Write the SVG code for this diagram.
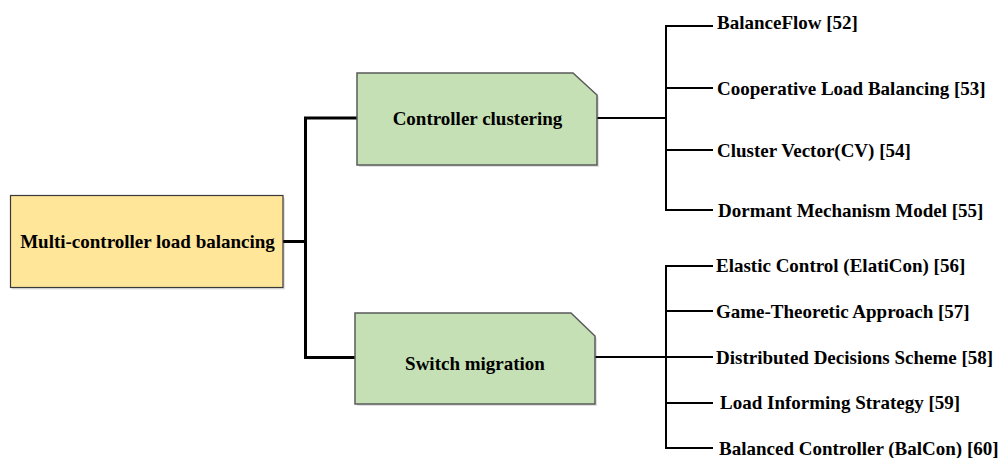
<svg xmlns="http://www.w3.org/2000/svg" width="1002" height="458" viewBox="0 0 1002 458">
<style>
.t{font-family:"Liberation Serif","Times New Roman",serif;font-weight:bold;font-size:19px;fill:#000}
.m{text-anchor:middle}
.root{fill:#FFE699;stroke:#3a3a3a;stroke-width:1.2}
.cat{fill:#C5E0B4;stroke:#5a5a5a;stroke-width:1.5}
.sh{fill:#000;opacity:0.12}
.thick{fill:none;stroke:#000;stroke-width:3}
.thin{fill:none;stroke:#000;stroke-width:2}
</style>
<rect width="1002" height="458" fill="#fff"/>
<g id="connectors">
<path class="thick" d="M283 241.5H305.5M305.5 118V357.5M304 118H357M304 357.5H355"/>
<path class="thin" d="M597 118H666M666 26V210M665 26H713M666 88H713M666 150H713M665 210H713"/>
<path class="thin" d="M595 357H666M666 266V448M665 266H713M666 311H713M666 357H713M666 403H713M665 448H713"/>
</g>
<g id="root">
<rect class="sh" x="12" y="197.5" width="273" height="92"/>
<rect class="root" x="10.5" y="195.5" width="272.5" height="92"/>
<text class="t m" x="147.5" y="248">Multi-controller load balancing</text>
</g>
<g id="controller-clustering">
<path class="sh" d="M359 75H575L599 97V167H359Z"/>
<path class="cat" d="M357 73H573L597 95V165H357Z"/>
<text class="t m" x="477.5" y="125">Controller clustering</text>
</g>
<g id="switch-migration">
<path class="sh" d="M357 315H573L597 338V406H357Z"/>
<path class="cat" d="M355 313H571L595 336V404H355Z"/>
<text class="t m" x="475" y="370">Switch migration</text>
</g>
<g id="leaf-52"><text class="t" x="717" y="29">BalanceFlow [52]</text></g>
<g id="leaf-53"><text class="t" x="717" y="95">Cooperative Load Balancing [53]</text></g>
<g id="leaf-54"><text class="t" x="717" y="157">Cluster Vector(CV) [54]</text></g>
<g id="leaf-55"><text class="t" x="718" y="217">Dormant Mechanism Model [55]</text></g>
<g id="leaf-56"><text class="t" x="716" y="272">Elastic Control (ElatiCon) [56]</text></g>
<g id="leaf-57"><text class="t" x="716" y="318">Game-Theoretic Approach [57]</text></g>
<g id="leaf-58"><text class="t" x="716" y="364">Distributed Decisions Scheme [58]</text></g>
<g id="leaf-59"><text class="t" x="720" y="409">Load Informing Strategy [59]</text></g>
<g id="leaf-60"><text class="t" x="719" y="455">Balanced Controller (BalCon) [60]</text></g>
</svg>
